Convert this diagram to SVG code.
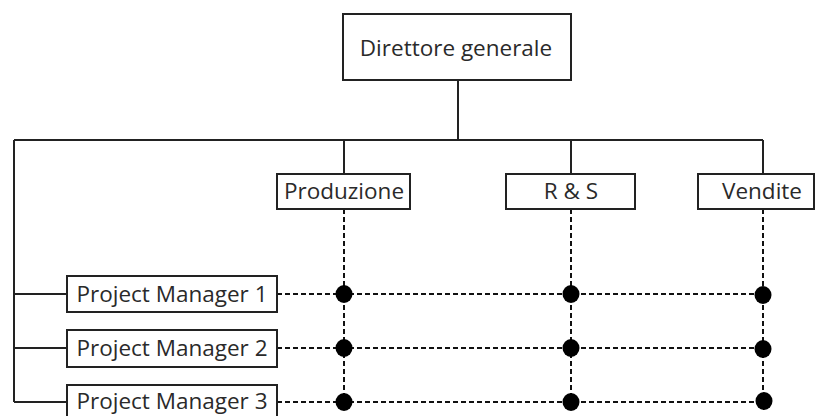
<svg xmlns="http://www.w3.org/2000/svg" width="818" height="416" viewBox="0 0 818 416">
<style>
.box{fill:#fff;stroke:#222;stroke-width:2}
.t{font-family:"Open Sans","Noto Sans",sans-serif;font-size:22.5px;fill:#2a2a2a;text-anchor:middle}
.solid{stroke:#222;stroke-width:2;fill:none}
.dash{stroke:#111;stroke-width:2;fill:none;stroke-dasharray:5 3}
.dot{fill:#000}
</style>
<rect width="818" height="416" fill="#fff"/>
<g id="connectors">
<path class="solid" d="M458 80V140M14 140H763M344 140V174M571 140V174M763 140V174M14 140V402M14 294H67M14 348H67M14 402H67"/>
<path class="dash" d="M277 294H763M277 348H763M277 402H763M344 209V402M571 209V402M763 209V402"/>
<g class="dot">
<ellipse cx="344" cy="294" rx="8.5" ry="9"/><ellipse cx="571" cy="294" rx="8.5" ry="9"/><ellipse cx="763" cy="295" rx="8.5" ry="9"/>
<ellipse cx="344" cy="348" rx="8.5" ry="9"/><ellipse cx="571" cy="348" rx="8.5" ry="9"/><ellipse cx="763" cy="349" rx="8.5" ry="9"/>
<ellipse cx="344" cy="402" rx="8.5" ry="9"/><ellipse cx="571" cy="402" rx="8.5" ry="9"/><ellipse cx="764" cy="401" rx="8.5" ry="9"/>
</g>
</g>
<g id="direttore"><rect class="box" x="343" y="14" width="228" height="66"/><text class="t" x="456" y="56">Direttore generale</text></g>
<g id="produzione"><rect class="box" x="277" y="174" width="133" height="35"/><text class="t" x="344" y="199">Produzione</text></g>
<g id="rs"><rect class="box" x="506" y="174" width="129" height="35"/><text class="t" x="571" y="199">R &amp; S</text></g>
<g id="vendite"><rect class="box" x="698" y="174" width="116" height="35"/><text class="t" x="762" y="199">Vendite</text></g>
<g id="pm1"><rect class="box" x="67" y="276" width="210" height="36"/><text class="t" x="172" y="302">Project Manager 1</text></g>
<g id="pm2"><rect class="box" x="67" y="330" width="210" height="37"/><text class="t" x="172" y="356">Project Manager 2</text></g>
<g id="pm3"><rect class="box" x="67" y="385" width="210" height="36"/><text class="t" x="172" y="409">Project Manager 3</text></g>
</svg>
